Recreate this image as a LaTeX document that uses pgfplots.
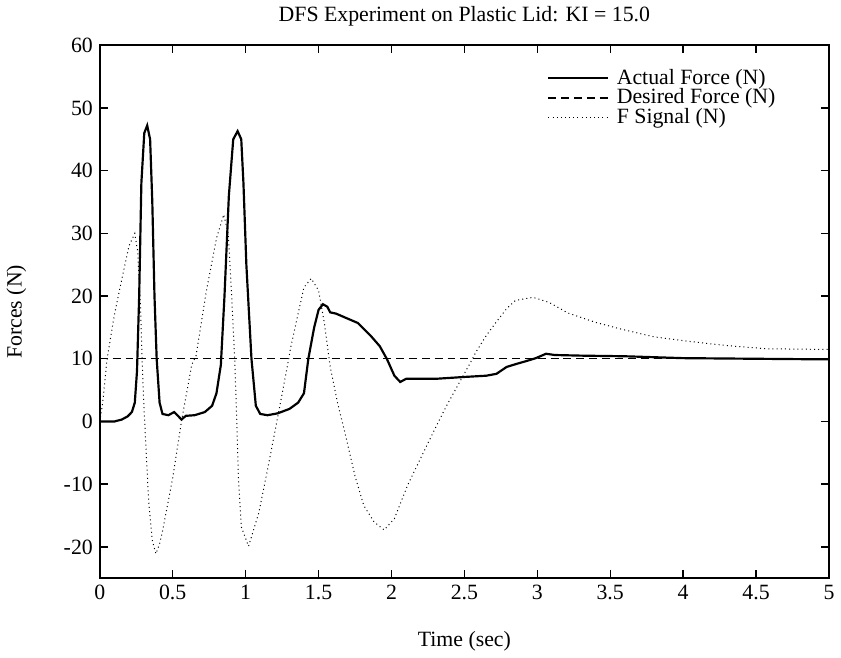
\documentclass[border=0pt]{standalone}
\usepackage{fontspec}
\setmainfont{Liberation Serif}
\usepackage{pgfplots}
\pgfplotsset{compat=1.18}
\begin{document}
\begin{tikzpicture}
\begin{axis}[
  width=368pt, height=269pt, scale only axis,
  xmin=0, xmax=5, ymin=-25, ymax=60,
  xtick={0,0.5,1,1.5,2,2.5,3,3.5,4,4.5,5},
  ytick={-20,-10,0,10,20,30,40,50,60},
  tick align=inside, major tick length=4pt,
  tick style={black, line width=0.7pt},
  /pgf/number format/assume math mode=true,
  font=\fontsize{11}{13}\selectfont,
  title={DFS Experiment on Plastic Lid: KI = 15.0},
  xlabel={Time (sec)}, ylabel={Forces (N)},
  xlabel shift=9pt, ylabel shift=12pt,
  axis line style={line width=0.9pt},
  legend style={at={(0.605,0.967)}, anchor=north west, draw=none, fill=none,
    font=\fontsize{11}{13}\selectfont, row sep=-1.2pt,
    nodes={inner xsep=4pt, inner ysep=1pt}},
  legend cell align=left,
  legend image code/.code={\draw[#1] (0pt,0pt) -- (30pt,0pt);},
]
\addplot[black, line width=1.1pt] coordinates {
(0,0) (0.1,0.0) (0.15,0.3) (0.19,0.8) (0.22,1.5) (0.24,3.0) (0.255,8) (0.27,20)
(0.285,38) (0.305,46) (0.325,47.2) (0.345,45) (0.36,35) (0.375,20) (0.39,10) (0.41,3)
(0.43,1.2) (0.47,1.0) (0.51,1.5) (0.54,0.8) (0.56,0.3) (0.59,0.9) (0.65,1.0) (0.72,1.5)
(0.77,2.5) (0.80,4.5) (0.83,9) (0.855,20) (0.885,36) (0.915,45) (0.945,46.3) (0.97,45)
(0.985,38) (1.005,25) (1.04,10) (1.07,2.5) (1.1,1.2) (1.15,1.0) (1.22,1.3) (1.3,2)
(1.36,3) (1.40,4.5) (1.43,10) (1.47,15) (1.5,17.8) (1.53,18.7) (1.56,18.3) (1.58,17.4)
(1.62,17.2) (1.68,16.6) (1.77,15.7) (1.86,13.6) (1.92,12) (1.97,9.9) (2.02,7.3) (2.06,6.3)
(2.1,6.8) (2.3,6.8) (2.5,7.1) (2.65,7.3) (2.72,7.6) (2.79,8.7) (2.86,9.2) (2.92,9.6)
(2.99,10.1) (3.06,10.8) (3.12,10.6) (3.3,10.5) (3.6,10.4) (4.0,10.1) (4.5,10.0) (5.0,9.9)
};
\addlegendentry{Actual Force (N)}
\addplot[black, line width=0.7pt, dash pattern=on 4pt off 2.5pt] coordinates {(0,10) (5,10)};
\addlegendentry{Desired Force (N)}
\addplot[black, line width=0.5pt, dash pattern=on 0.5pt off 1.6pt] coordinates {
(0,0) (0.02,3) (0.05,10) (0.1,17) (0.14,21.5) (0.2,28) (0.24,30) (0.26,27) (0.28,18)
(0.29,10) (0.3,3.7) (0.32,-5.8) (0.335,-12.7) (0.36,-19) (0.385,-21.1) (0.41,-19.5)
(0.43,-17.5) (0.5,-9) (0.56,0) (0.63,9) (0.66,10.5) (0.73,20.7) (0.8,29.2) (0.85,33)
(0.88,30) (0.9,22) (0.925,10) (0.94,-0.3) (0.95,-8.8) (0.97,-16.8) (1.02,-19.9)
(1.09,-14.6) (1.15,-7.7) (1.22,0.7) (1.29,9.3) (1.31,11.9) (1.36,17.2) (1.4,21.4)
(1.45,22.8) (1.5,20.9) (1.54,15.7) (1.58,8.7) (1.63,3.0) (1.68,-1.7) (1.75,-8.7)
(1.81,-13.4) (1.88,-16) (1.95,-17.3) (2.02,-15.5) (2.11,-10.2) (2.22,-4.9) (2.31,-0.6)
(2.38,2.6) (2.47,6.4) (2.53,8.9) (2.58,11.1) (2.65,13.7) (2.72,15.9) (2.79,18)
(2.85,19.3) (2.97,19.8) (3.08,19.0) (3.21,17.3) (3.4,15.8) (3.58,14.7) (3.8,13.5)
(4.03,12.8) (4.3,12.1) (4.57,11.6) (4.94,11.5) (5.0,11.5)
};
\addlegendentry{F Signal (N)}
\end{axis}
\end{tikzpicture}
\end{document}
